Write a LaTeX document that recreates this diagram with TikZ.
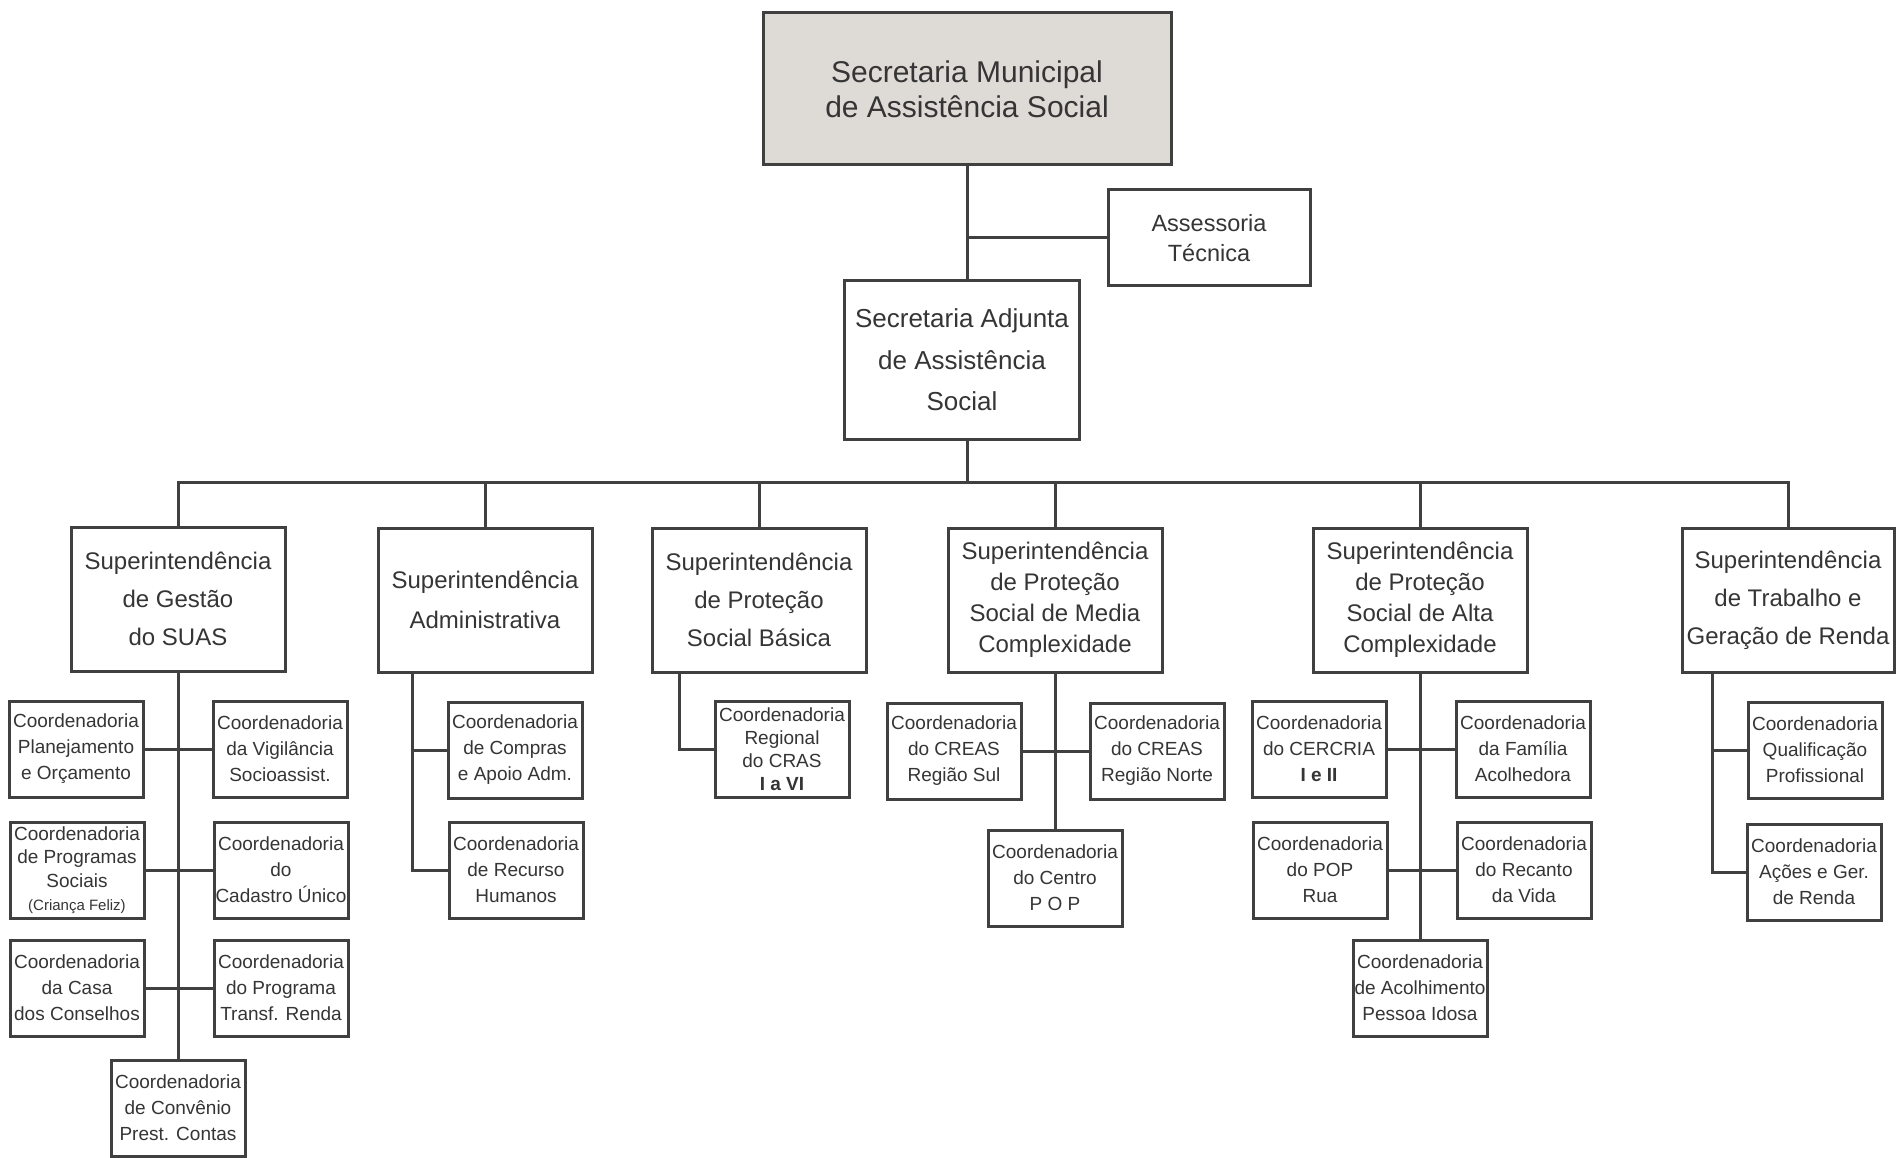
\documentclass[tikz,border=0pt]{standalone}
\usepackage{fontspec}
\setmainfont{Liberation Sans}
\usepackage{tikz}
\definecolor{cinza}{HTML}{DEDAD6}
\definecolor{linha}{HTML}{404040}
\definecolor{letra}{HTML}{353535}
\tikzstyle{caixa}=[draw=linha,line width=3pt,fill=white,text=letra,align=center,inner sep=0pt]
\tikzstyle{super}=[caixa,minimum width=214pt,minimum height=144pt,font=\fontsize{24}{38}\selectfont]
\tikzstyle{coord}=[caixa,minimum width=134pt,minimum height=96pt,font=\fontsize{19}{26}\selectfont]

\begin{document}
\begin{tikzpicture}[x=1pt,y=-1pt,line width=3pt,color=linha]
    \useasboundingbox (0,0) rectangle (1896,1158);
    \node [caixa,fill=cinza,minimum width=408pt,minimum height=152pt,font=\fontsize{30}{35}\selectfont] (sec) at (967,89) {Secretaria Municipal\\de Assistência Social};
    \node [caixa,minimum width=202pt,minimum height=96pt,font=\fontsize{23.5}{30}\selectfont] (ass) at (1209,238) {Assessoria\\Técnica};
    \node [caixa,minimum width=235pt,minimum height=158pt,font=\fontsize{26}{41.5}\selectfont] (adj) at (962,360) {Secretaria Adjunta\\de Assistência\\Social};
    \coordinate (barra) at (967,482);
    \draw (sec.south) -- (sec.south |- adj.north);
    \draw (ass.west) -- (ass.west -| sec.south);
    \draw (adj.south -| barra) -- (barra);

    \node [super] (s1) at (178,599) {Superintendência\\de Gestão\\do SUAS};
    \node [super,font=\fontsize{24}{40}\selectfont] (s2) at (485,600) {Superintendência\\Administrativa};
    \node [super] (s3) at (759,600) {Superintendência\\de Proteção\\Social Básica};
    \node [super,font=\fontsize{24}{31}\selectfont] (s4) at (1055,600) {Superintendência\\de Proteção\\Social de Media\\Complexidade};
    \node [super,font=\fontsize{24}{31}\selectfont] (s5) at (1420,600) {Superintendência\\de Proteção\\Social de Alta\\Complexidade};
    \node [super,minimum width=212pt] (s6) at (1788,600) {Superintendência\\de Trabalho e\\Geração de Renda};
    \draw (s1.north) -- (s1.north |- barra) -- (s6.north |- barra) -- (s6.north);
    \foreach \s in {s2,s3,s4,s5}
        \draw (\s.north) -- (\s.north |- barra);

    \node [coord] (c1) at (76,749) {Coordenadoria\\Planejamento\\e Orçamento};
    \node [coord] (c2) at (280,749) {Coordenadoria\\da Vigilância\\Socioassist.};
    \node [coord,font=\fontsize{19}{23.5}\selectfont] (c3) at (77,870) {Coordenadoria\\de Programas\\Sociais\\{\fontsize{15}{17}\selectfont (Criança Feliz)}};
    \node [coord] (c4) at (281,870) {Coordenadoria\\do\\Cadastro Único};
    \node [coord] (c5) at (77,988) {Coordenadoria\\da Casa\\dos Conselhos};
    \node [coord] (c6) at (281,988) {Coordenadoria\\do Programa\\Transf. Renda};
    \node [coord] (c7) at (178,1108) {Coordenadoria\\de Convênio\\Prest. Contas};
    \draw (s1.south) -- (c7.north);
    \draw (c1.east) -- (c2.west);
    \draw (c3.east) -- (c4.west);
    \draw (c5.east) -- (c6.west);

    \node [coord] (a1) at (515,750) {Coordenadoria\\de Compras\\e Apoio Adm.};
    \node [coord] (a2) at (516,870) {Coordenadoria\\de Recurso\\Humanos};
    \draw ([xshift=-73pt]s2.south) |- (a1.west);
    \draw ([xshift=-73pt]s2.south) |- (a2.west);

    \node [coord,font=\fontsize{19}{23}\selectfont] (b1) at (782,749) {Coordenadoria\\Regional\\do CRAS\\\textbf{I a VI}};
    \draw ([xshift=-80pt]s3.south) |- (b1.west);

    \node [coord] (m1) at (954,751) {Coordenadoria\\do CREAS\\Região Sul};
    \node [coord] (m2) at (1157,751) {Coordenadoria\\do CREAS\\Região Norte};
    \node [coord] (m3) at (1055,878) {Coordenadoria\\do Centro\\P O P};
    \draw (s4.south) -- (m3.north);
    \draw (m1.east) -- (m2.west);

    \node [coord] (h1) at (1319,749) {Coordenadoria\\do CERCRIA\\\textbf{I e II}};
    \node [coord] (h2) at (1523,749) {Coordenadoria\\da Família\\Acolhedora};
    \node [coord] (h3) at (1320,870) {Coordenadoria\\do POP\\Rua};
    \node [coord] (h4) at (1524,870) {Coordenadoria\\do Recanto\\da Vida};
    \node [coord] (h5) at (1420,988) {Coordenadoria\\de Acolhimento\\Pessoa Idosa};
    \draw (s5.south) -- (h5.north);
    \draw (h1.east) -- (h2.west);
    \draw (h3.east) -- (h4.west);

    \node [coord] (r1) at (1815,750) {Coordenadoria\\Qualificação\\Profissional};
    \node [coord] (r2) at (1814,872) {Coordenadoria\\Ações e Ger.\\de Renda};
    \draw ([xshift=-76pt]s6.south) |- (r1.west);
    \draw ([xshift=-76pt]s6.south) |- (r2.west);
\end{tikzpicture}
\end{document}
